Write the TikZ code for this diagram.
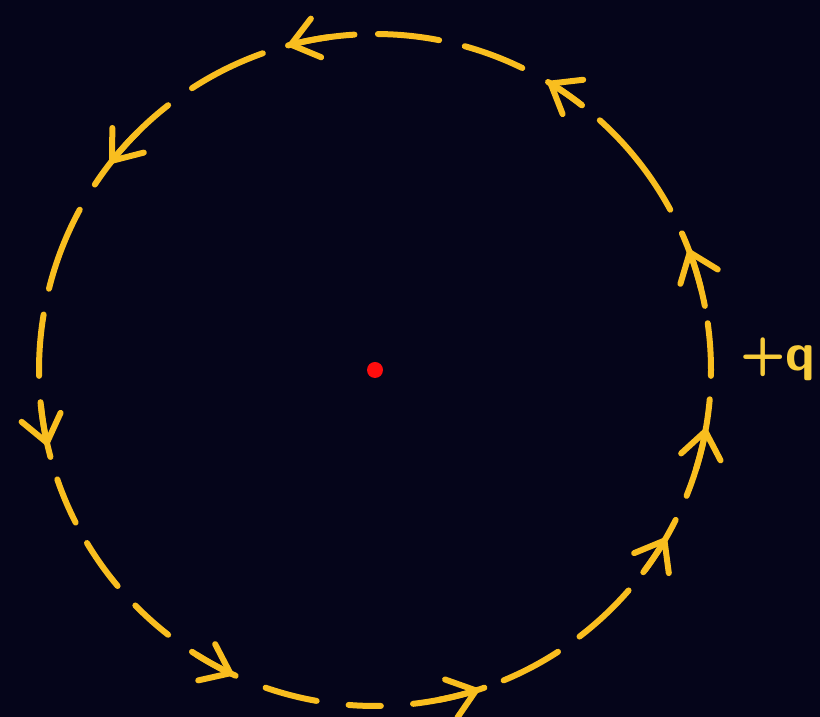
\documentclass[tikz,border=0pt]{standalone}
\usetikzlibrary{arrows.meta,calc}
\definecolor{BoardNight}{HTML}{05051A}
\definecolor{ChalkGold}{HTML}{F9BE1F}
\definecolor{ChalkLabel}{HTML}{F8CC3A}
\definecolor{ChargeRed}{HTML}{FF0D0D}
\tikzset{
  loop/.style={draw=ChalkGold, line width=6pt, line cap=round},
  flow/.style={-{Straight Barb[length=26pt,width=40pt,round]}, draw=ChalkGold, line width=6pt, line cap=round},
  charge/.style={circle, fill=ChargeRed, inner sep=0pt, minimum size=16pt},
}
\begin{document}
\begin{tikzpicture}[x=1pt,y=1pt]
  % Board
  \fill[BoardNight] (0,0) rectangle (820,717);
  \useasboundingbox (0,0) rectangle (820,717);
  % Centre charge
  \node[charge] (centre) at (375,347) {};
  % Dashed loop, one stroke at a time
  \foreach \a/\b in {-1/8, 11/24, 28.5/48, 52/59, 64/74.5, 79/89.5, 93.5/105, 109.5/123,
                     128/146.5, 151.5/166, 170.5/181, 185.5/195, 199/207, 211/220, 224.5/232,
                     237/245.5, 251/260, 265.5/271, 276.5/289, 292.5/303, 307.5/319,
                     323.5/333.5, 338/355}
    \draw[loop] ($(centre)+(\a:336)$) arc[start angle=\a, end angle=\b, radius=336];
  % Direction marks
  \foreach \t in {21, 59, 105, 142, 193, 245, 288, 330, 350}
    \draw[flow] ($(centre)+(\t-7:336)$) arc[start angle=\t-7, end angle=\t, radius=336];
  % Label
  \node[anchor=base west, inner sep=0pt, text=ChalkLabel, font=\fontsize{53}{53}\selectfont\sffamily\bfseries] (plusq) at (740,346) {+q};
\end{tikzpicture}
\end{document}
